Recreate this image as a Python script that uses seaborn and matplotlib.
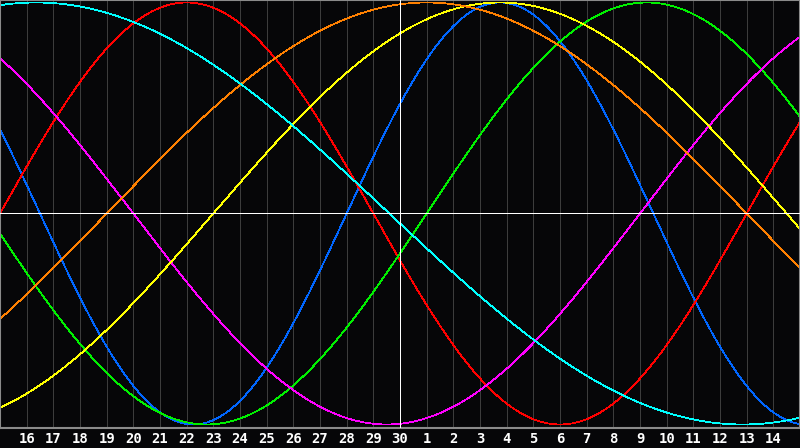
import numpy as np
import pandas as pd
import matplotlib
matplotlib.use("Agg")
import matplotlib.pyplot as plt
import seaborn as sns

# Biorhythm cycles: period (days) and day index of the ascending zero crossing
cycles = ["Physical", "Emotional", "Intellectual", "Intuitive", "Aesthetic", "Awareness", "Spiritual"]
periods = [23, 28, 33, 38, 43, 48, 53]
zero_up = [13.0, 0.0, 16.0, 24.0, 8.0, 4.0, -11.9]
colors = ["#0066ff", "#ff0000", "#00f000", "#ff00ff", "#ffff00", "#ff8000", "#00ffff"]

# Day labels along the bottom (day index 1..29)
day_labels = [16, 17, 18, 19, 20, 21, 22, 23, 24, 25, 26, 27, 28, 29, 30,
              1, 2, 3, 4, 5, 6, 7, 8, 9, 10, 11, 12, 13, 14]
today_index = 15
n_days = 30

t = np.linspace(0, n_days, 1201)
frames = []
for name, p, z in zip(cycles, periods, zero_up):
    frames.append(pd.DataFrame({"day": t, "value": np.sin(2 * np.pi * (t - z) / p), "cycle": name}))
df = pd.concat(frames, ignore_index=True)

sns.set_style("dark", {"axes.facecolor": "#060608", "figure.facecolor": "#060608"})
fig = plt.figure(figsize=(8, 4.48), dpi=100)
ax = fig.add_axes([0, 20 / 448, 1, 428 / 448])
ax.set_facecolor("#060608")

for i in range(1, n_days):
    ax.axvline(i, color="#3c3c3c", lw=0.6, zorder=0.5, antialiased=False)

sns.lineplot(data=df, x="day", y="value", hue="cycle", palette=dict(zip(cycles, colors)),
             hue_order=cycles, ax=ax, lw=0.55, legend=False, antialiased=False, zorder=2)

ax.axhline(0, color="white", lw=0.7, zorder=3, antialiased=False)
ax.axvline(today_index, color="white", lw=0.7, zorder=3, antialiased=False)

ax.set_xlim(0, n_days)
ax.set_ylim(-1.0166, 1.0118)
ax.set_yticks([])
ax.set_xticks(range(1, n_days))
ax.set_xticklabels([str(d) for d in day_labels], color="white", fontsize=10,
                   fontweight="bold", family="DejaVu Sans Mono")
ax.tick_params(axis="x", length=0, pad=3)
ax.set_xlabel("")
ax.set_ylabel("")
for s in ax.spines.values():
    s.set_visible(True)
    s.set_color("#8a8a8a")
    s.set_linewidth(1.5)

fig.savefig("out.png", dpi=100, facecolor="#060608")
